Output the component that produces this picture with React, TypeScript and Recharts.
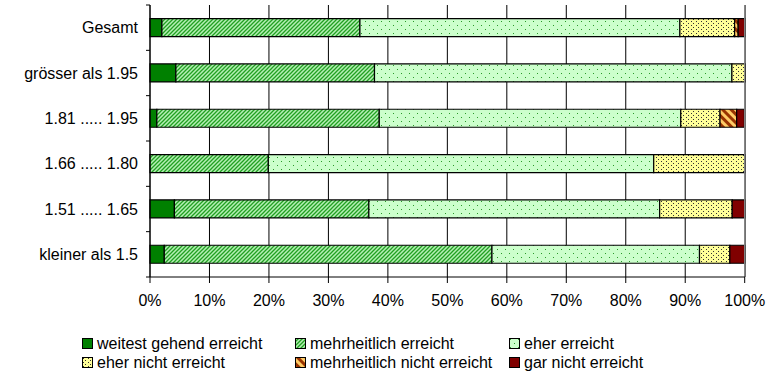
import React from 'react'
import { BarChart, Bar, XAxis, YAxis, CartesianGrid, ReferenceLine } from 'recharts'

const categories = ['Gesamt', 'grösser als 1.95', '1.81 ..... 1.95', '1.66 ..... 1.80', '1.51 ..... 1.65', 'kleiner als 1.5']
const weitest = [2.0, 4.35, 1.15, 0, 4.1, 2.4]
const mehrheitlich = [33.3, 33.4, 37.4, 19.9, 32.7, 55.1]
const eher = [53.8, 60.1, 50.7, 64.8, 48.9, 34.9]
const eherNicht = [9.2, 2.2, 6.6, 15.3, 12.2, 5.1]
const mehrNicht = [0.6, 0, 2.8, 0, 0, 0]
const garNicht = [1.1, 0, 1.3, 0, 2.1, 2.5]
const xTicks = [0, 10, 20, 30, 40, 50, 60, 70, 80, 90, 100]

const seriesNames = ['weitest gehend erreicht', 'mehrheitlich erreicht', 'eher erreicht', 'eher nicht erreicht', 'mehrheitlich nicht erreicht', 'gar nicht erreicht']

const data = categories.map((name, i) => ({
  name,
  s0: weitest[i],
  s1: mehrheitlich[i],
  s2: eher[i],
  s3: eherNicht[i],
  s4: mehrNicht[i],
  s5: garNicht[i],
}))

const fills = ['#008000', 'url(#hatchGreen)', 'url(#dotsGreen)', 'url(#dotsYellow)', 'url(#stripesBrown)', '#800000']
const font = '"Liberation Sans", Arial, sans-serif'

const CatTick = (props: any) => {
  const { x, y, payload, index, visibleTicksCount } = props
  const half = payload && payload.offset ? payload.offset : 22.7
  const ax = x + 12
  return (
    <g>
      <text x={x} y={y} dy="0.355em" textAnchor="end" fontSize={16} fontFamily={font} fill="#000">
        {payload.value}
      </text>
      <line x1={ax - 4} x2={ax} y1={y - half} y2={y - half} stroke="#000" />
      {index === visibleTicksCount - 1 && <line x1={ax - 4} x2={ax} y1={y + half} y2={y + half} stroke="#000" />}
    </g>
  )
}

const legendPos = [
  { left: 82, top: 338 },
  { left: 295, top: 338 },
  { left: 509, top: 338 },
  { left: 82, top: 357 },
  { left: 295, top: 357 },
  { left: 509, top: 357 },
]

const Swatch = ({ fill }: { fill: string }) => (
  <svg width={12} height={12} style={{ display: 'block' }}>
    <defs>
      <pattern id="lgHatch" patternUnits="userSpaceOnUse" width={4} height={4}>
        <rect width={4} height={4} fill="#b4f0b4" />
        <path d="M-1,1 l2,-2 M0,4 l4,-4 M3,5 l2,-2" stroke="#22a022" strokeWidth={1.3} />
      </pattern>
    </defs>
    <rect x={0.5} y={0.5} width={10} height={10} fill={fill} stroke="#000" />
  </svg>
)

export default function App() {
  return (
    <div style={{ position: 'absolute', left: 0, top: 0, width: 784, height: 381, background: '#fff' }}>
      <BarChart
        width={784}
        height={381}
        data={data}
        layout="vertical"
        barCategoryGap="30%"
        margin={{ top: 5, right: 39, left: 0, bottom: 74 }}
      >
        <defs>
          <pattern id="hatchGreen" patternUnits="userSpaceOnUse" width={4} height={4}>
            <rect width={4} height={4} fill="#b4f0b4" />
            <path d="M-1,1 l2,-2 M0,4 l4,-4 M3,5 l2,-2" stroke="#22a022" strokeWidth={1.3} />
          </pattern>
          <pattern id="dotsGreen" patternUnits="userSpaceOnUse" width={8} height={8}>
            <rect width={8} height={8} fill="#ccffcc" />
            <rect x={1} y={1} width={1} height={1} fill="#2a9a2a" />
            <rect x={5} y={5} width={1} height={1} fill="#2a9a2a" />
          </pattern>
          <pattern id="dotsYellow" patternUnits="userSpaceOnUse" width={5} height={4}>
            <rect width={5} height={4} fill="#ffff99" />
            <rect x={1} y={1} width={1} height={1} fill="#333" />
            <rect x={3} y={3} width={1} height={1} fill="#333" />
          </pattern>
          <pattern id="stripesBrown" patternUnits="userSpaceOnUse" width={6} height={6} patternTransform="rotate(-45)">
            <rect width={6} height={6} fill="#ffcc66" />
            <rect width={3} height={6} fill="#993300" />
          </pattern>
        </defs>
        <CartesianGrid horizontal={false} stroke="#000" />
        <XAxis
          type="number"
          domain={[0, 100]}
          ticks={xTicks}
          interval={0}
          tickFormatter={(v: number) => `${v}%`}
          axisLine={{ stroke: '#000' }}
          tickLine={{ stroke: '#000' }}
          tickSize={6}
          tickMargin={12}
          height={30}
          tick={{ fontSize: 16, fontFamily: font, fill: '#000' }}
        />
        <XAxis xAxisId="top" orientation="top" type="number" domain={[0, 100]} height={0} tick={false} tickLine={false} axisLine={{ stroke: '#a0a0a0' }} />
        <YAxis
          type="category"
          dataKey="name"
          width={150}
          axisLine={{ stroke: '#000' }}
          tickLine={false}
          tickSize={0}
          tickMargin={12}
          interval={0}
          tick={<CatTick />}
        />
        <ReferenceLine x={100} stroke="#a0a0a0" />
        {['s0', 's1', 's2', 's3', 's4', 's5'].map((k, i) => (
          <Bar key={k} dataKey={k} name={seriesNames[i]} stackId="a" fill={fills[i]} stroke="#000" strokeWidth={1.2} isAnimationActive={false} />
        ))}
      </BarChart>
      {seriesNames.map((n, i) => (
        <div
          key={n}
          style={{
            position: 'absolute',
            left: legendPos[i].left,
            top: legendPos[i].top,
            display: 'flex',
            alignItems: 'center',
            fontFamily: font,
            fontSize: 16,
            lineHeight: '12px',
            whiteSpace: 'nowrap',
          }}
        >
          <Swatch fill={fills[i] === 'url(#hatchGreen)' ? 'url(#lgHatch)' : fills[i]} />
          <span style={{ marginLeft: 3 }}>{n}</span>
        </div>
      ))}
    </div>
  )
}
